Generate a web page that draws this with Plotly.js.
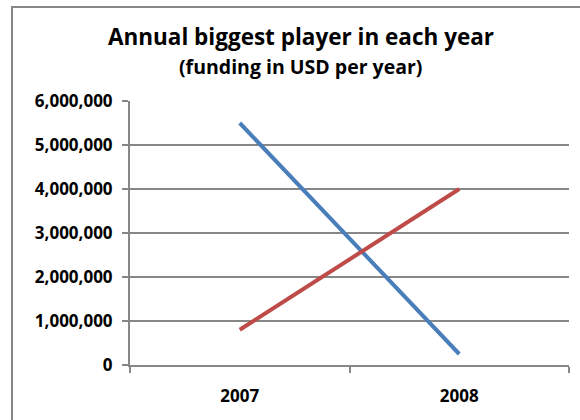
<!DOCTYPE html>
<html>
<head>
<meta charset="utf-8">
<script src="https://cdn.plot.ly/plotly-3.0.1.min.js"></script>
<style>
  html, body { margin: 0; padding: 0; background: #ffffff; }
  #chart { width: 580px; height: 420px; }
</style>
</head>
<body>
<div id="chart"></div>
<script>
// ---- data ----
const years = ['2007', '2008'];
const blueSeries = [5500000, 250000];
const redSeries = [800000, 4000000];
const yTickValues = [0, 1000000, 2000000, 3000000, 4000000, 5000000, 6000000];
const titleText = 'Annual biggest player in each year';
const subtitleText = '(funding in USD per year)';

// ---- layout geometry (pixels) ----
const W = 580, H = 420;
const mL = 130, mR = 11, mT = 101, mB = 55;
const plotW = W - mL - mR, plotH = H - mT - mB;
const px2x = px => (px - mL) / plotW;
const py2y = py => 1 - (py - mT) / plotH;

const gray = '#878787';
const fontFam = '"Open Sans", Lato, sans-serif';

const traces = [
  {
    x: years, y: blueSeries, type: 'scatter', mode: 'lines',
    line: { color: '#4a7ebb', width: 4 }, name: 'Blue', hoverinfo: 'x+y'
  },
  {
    x: years, y: redSeries, type: 'scatter', mode: 'lines',
    line: { color: '#be4b48', width: 4 }, name: 'Red', hoverinfo: 'x+y'
  }
];

const layout = {
  width: W, height: H,
  margin: { l: mL, r: mR, t: mT, b: mB, pad: 0 },
  paper_bgcolor: '#ffffff', plot_bgcolor: '#ffffff',
  showlegend: false,
  font: { family: fontFam, color: '#000000' },
  title: {
    text: titleText,
    font: { family: fontFam, size: 22.5, weight: 'bold', color: '#000000' },
    xref: 'container', yref: 'container',
    x: 301 / W, xanchor: 'center',
    y: 1 - 37 / H, yanchor: 'middle'
  },
  annotations: [{
    text: subtitleText, showarrow: false,
    xref: 'paper', yref: 'paper',
    x: px2x(300), y: py2y(66), xanchor: 'center', yanchor: 'middle',
    font: { family: fontFam, size: 19.5, weight: 'bold', color: '#000000' }
  }],
  xaxis: {
    type: 'category', range: [-0.5, 1.5],
    showline: true, linecolor: gray, linewidth: 2,
    ticks: 'outside', tickson: 'boundaries', ticklen: 6, tickwidth: 2, tickcolor: gray,
    showgrid: false, zeroline: false,
    tickfont: { family: fontFam, size: 17, weight: 'bold', color: '#000000' },
    ticklabelstandoff: 15,
    fixedrange: true
  },
  yaxis: {
    range: [0, 6000000], tickvals: yTickValues, tickformat: ',d',
    showline: true, linecolor: gray, linewidth: 2,
    ticks: 'outside', ticklen: 6, tickwidth: 2, tickcolor: gray,
    showgrid: true, gridcolor: gray, gridwidth: 2, zeroline: false,
    tickfont: { family: fontFam, size: 17, weight: 'bold', color: '#000000' },
    ticklabelstandoff: 6,
    fixedrange: true
  },
  shapes: [{
    type: 'rect', xref: 'paper', yref: 'paper', layer: 'below',
    x0: px2x(12), x1: px2x(620), y0: py2y(460), y1: py2y(7),
    line: { color: gray, width: 2 }, fillcolor: 'rgba(0,0,0,0)'
  }]
};

Plotly.newPlot('chart', traces, layout, { staticPlot: true, displayModeBar: false });
</script>
</body>
</html>
